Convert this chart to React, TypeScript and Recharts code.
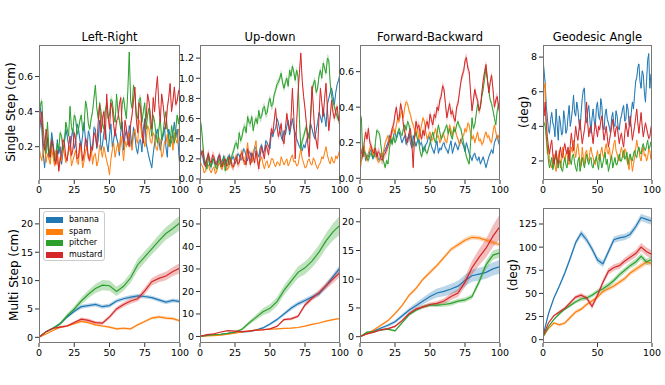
import { ComposedChart, Line, Area, XAxis, YAxis } from "recharts";

const OBJECTS = ["banana", "spam", "pitcher", "mustard"];
const COLORS = ["#1f77b4", "#ff7f0e", "#2ca02c", "#d62728"];
const FONT = "DejaVu Sans, sans-serif";

const stepsFine = Array.from({ length: 101 }, (_, i) => i);
const stepsCoarse = Array.from({ length: 21 }, (_, i) => i * 5);

// ---- single step, left-right (cm), one value per step 0..100
const lrBanana = [
  0.44, 0.42, 0.30, 0.16, 0.08, 0.20, 0.25, 0.14, 0.18, 0.28, 0.22, 0.15, 0.12, 0.24, 0.16, 0.20, 0.10, 0.17, 0.22, 0.30,
  0.26, 0.21, 0.18, 0.25, 0.30, 0.19, 0.22, 0.33, 0.30, 0.24, 0.20, 0.27, 0.34, 0.23, 0.18, 0.29, 0.26, 0.16, 0.20, 0.31,
  0.30, 0.19, 0.24, 0.35, 0.18, 0.21, 0.28, 0.32, 0.22, 0.17, 0.26, 0.33, 0.20, 0.24, 0.30, 0.25, 0.22, 0.15, 0.28, 0.34,
  0.18, 0.26, 0.30, 0.21, 0.32, 0.27, 0.20, 0.31, 0.26, 0.19, 0.16, 0.23, 0.24, 0.17, 0.30, 0.36, 0.22, 0.18, 0.14, 0.11,
  0.08, 0.16, 0.22, 0.27, 0.30, 0.24, 0.18, 0.23, 0.26, 0.31, 0.20, 0.14, 0.30, 0.26, 0.22, 0.28, 0.34, 0.25, 0.30, 0.18,
  0.06,
];
const lrSpam = [
  0.20, 0.15, 0.12, 0.18, 0.22, 0.11, 0.16, 0.13, 0.10, 0.19, 0.14, 0.09, 0.18, 0.12, 0.08, 0.14, 0.12, 0.21, 0.16, 0.11,
  0.14, 0.17, 0.20, 0.09, 0.12, 0.15, 0.18, 0.11, 0.10, 0.22, 0.16, 0.08, 0.12, 0.17, 0.20, 0.13, 0.14, 0.19, 0.10, 0.15,
  0.16, 0.09, 0.12, 0.21, 0.18, 0.14, 0.20, 0.16, 0.12, 0.09, 0.04, 0.13, 0.18, 0.22, 0.14, 0.19, 0.22, 0.17, 0.26, 0.20,
  0.12, 0.23, 0.20, 0.25, 0.28, 0.21, 0.18, 0.27, 0.30, 0.24, 0.22, 0.35, 0.33, 0.25, 0.26, 0.20, 0.24, 0.32, 0.30, 0.23,
  0.22, 0.28, 0.26, 0.19, 0.18, 0.25, 0.24, 0.14, 0.16, 0.23, 0.22, 0.27, 0.20, 0.24, 0.26, 0.18, 0.28, 0.24, 0.22, 0.30,
  0.28,
];
const lrPitcher = [
  0.40, 0.44, 0.46, 0.30, 0.22, 0.16, 0.34, 0.20, 0.14, 0.24, 0.20, 0.12, 0.12, 0.22, 0.18, 0.28, 0.26, 0.18, 0.22, 0.34,
  0.30, 0.26, 0.43, 0.31, 0.28, 0.38, 0.36, 0.27, 0.30, 0.35, 0.38, 0.29, 0.32, 0.46, 0.42, 0.33, 0.30, 0.36, 0.40, 0.48,
  0.55, 0.42, 0.36, 0.45, 0.40, 0.33, 0.30, 0.41, 0.44, 0.36, 0.38, 0.47, 0.46, 0.38, 0.34, 0.50, 0.40, 0.35, 0.30, 0.44,
  0.48, 0.41, 0.36, 0.52, 0.74, 0.46, 0.42, 0.55, 0.50, 0.38, 0.36, 0.47, 0.48, 0.34, 0.40, 0.45, 0.30, 0.38, 0.42, 0.32,
  0.26, 0.38, 0.34, 0.27, 0.22, 0.30, 0.36, 0.24, 0.28, 0.35, 0.40, 0.30, 0.26, 0.20, 0.32, 0.27, 0.22, 0.30, 0.38, 0.33,
  0.40,
];
const lrMustard = [
  0.26, 0.34, 0.40, 0.22, 0.18, 0.30, 0.24, 0.15, 0.14, 0.24, 0.20, 0.13, 0.10, 0.18, 0.06, 0.12, 0.16, 0.24, 0.22, 0.14,
  0.12, 0.20, 0.26, 0.15, 0.18, 0.28, 0.24, 0.13, 0.14, 0.22, 0.20, 0.12, 0.16, 0.25, 0.22, 0.14, 0.12, 0.20, 0.18, 0.28,
  0.26, 0.20, 0.34, 0.44, 0.28, 0.36, 0.40, 0.24, 0.50, 0.38, 0.30, 0.45, 0.42, 0.32, 0.26, 0.35, 0.36, 0.44, 0.48, 0.30,
  0.22, 0.35, 0.30, 0.24, 0.20, 0.33, 0.38, 0.46, 0.54, 0.36, 0.28, 0.45, 0.42, 0.30, 0.22, 0.34, 0.36, 0.50, 0.46, 0.38,
  0.30, 0.48, 0.40, 0.52, 0.60, 0.44, 0.34, 0.50, 0.44, 0.36, 0.30, 0.42, 0.48, 0.56, 0.40, 0.46, 0.54, 0.44, 0.46, 0.52,
  0.50,
];
const lrSpread = [0.015, 0.012, 0.02, 0.02];

// ---- single step, up-down (cm)
const udBanana = [
  0.30, 0.26, 0.22, 0.14, 0.16, 0.20, 0.24, 0.13, 0.12, 0.18, 0.20, 0.15, 0.16, 0.22, 0.24, 0.17, 0.18, 0.23, 0.14, 0.19,
  0.20, 0.24, 0.16, 0.21, 0.22, 0.15, 0.18, 0.25, 0.24, 0.19, 0.20, 0.30, 0.28, 0.22, 0.18, 0.27, 0.26, 0.17, 0.20, 0.32,
  0.30, 0.25, 0.22, 0.31, 0.34, 0.26, 0.28, 0.38, 0.36, 0.32, 0.30, 0.46, 0.42, 0.48, 0.50, 0.60, 0.56, 0.48, 0.42, 0.38,
  0.48, 0.44, 0.52, 0.58, 0.44, 0.52, 0.60, 0.50, 0.46, 0.40, 0.36, 0.32, 0.30, 0.28, 0.34, 0.31, 0.38, 0.42, 0.46, 0.55,
  0.50, 0.44, 0.40, 0.48, 0.56, 0.66, 0.62, 0.56, 0.70, 0.62, 0.52, 0.74, 0.80, 0.86, 0.90, 0.82, 0.74, 0.86, 0.94, 0.98,
  1.05,
];
const udSpam = [
  0.18, 0.14, 0.12, 0.06, 0.08, 0.16, 0.14, 0.09, 0.06, 0.10, 0.12, 0.05, 0.08, 0.13, 0.16, 0.11, 0.10, 0.18, 0.14, 0.09,
  0.10, 0.15, 0.20, 0.11, 0.12, 0.18, 0.24, 0.14, 0.16, 0.22, 0.28, 0.18, 0.14, 0.25, 0.36, 0.22, 0.20, 0.16, 0.26, 0.31,
  0.38, 0.20, 0.14, 0.18, 0.22, 0.15, 0.10, 0.16, 0.18, 0.11, 0.14, 0.20, 0.20, 0.15, 0.12, 0.17, 0.16, 0.13, 0.22, 0.18,
  0.14, 0.17, 0.20, 0.13, 0.16, 0.21, 0.24, 0.17, 0.18, 0.13, 0.14, 0.22, 0.30, 0.20, 0.16, 0.11, 0.12, 0.18, 0.20, 0.15,
  0.14, 0.21, 0.18, 0.13, 0.10, 0.14, 0.16, 0.22, 0.20, 0.26, 0.32, 0.24, 0.18, 0.15, 0.22, 0.17, 0.16, 0.23, 0.20, 0.25,
  0.30,
];
const udPitcher = [
  0.60, 0.52, 0.35, 0.20, 0.15, 0.10, 0.22, 0.16, 0.12, 0.20, 0.18, 0.12, 0.10, 0.16, 0.20, 0.12, 0.14, 0.22, 0.08, 0.16,
  0.22, 0.14, 0.18, 0.24, 0.28, 0.34, 0.36, 0.30, 0.46, 0.38, 0.42, 0.50, 0.52, 0.46, 0.62, 0.56, 0.55, 0.62, 0.48, 0.56,
  0.60, 0.55, 0.68, 0.60, 0.62, 0.70, 0.72, 0.64, 0.66, 0.76, 0.80, 0.72, 0.74, 0.84, 0.88, 0.94, 0.96, 1.00, 1.05, 0.95,
  0.90, 0.96, 1.00, 0.92, 1.08, 1.02, 1.12, 1.06, 0.98, 1.08, 1.02, 0.60, 0.30, 0.38, 0.42, 0.48, 0.52, 0.44, 0.40, 0.62,
  0.88, 0.94, 0.98, 0.86, 0.90, 1.02, 1.08, 1.00, 1.15, 1.10, 1.05, 1.20, 1.18, 0.95, 0.82, 0.76, 0.72, 0.66, 0.62, 0.58,
  0.68,
];
const udMustard = [
  0.32, 0.24, 0.28, 0.18, 0.12, 0.20, 0.26, 0.18, 0.16, 0.24, 0.22, 0.15, 0.14, 0.20, 0.24, 0.16, 0.12, 0.18, 0.20, 0.13,
  0.14, 0.22, 0.18, 0.13, 0.12, 0.19, 0.22, 0.15, 0.16, 0.24, 0.26, 0.18, 0.18, 0.14, 0.30, 0.22, 0.14, 0.26, 0.22, 0.16,
  0.28, 0.18, 0.10, 0.24, 0.32, 0.26, 0.20, 0.34, 0.30, 0.24, 0.38, 0.50, 0.45, 0.58, 0.70, 0.52, 0.42, 0.48, 0.55, 0.40,
  0.35, 0.50, 0.65, 0.55, 0.48, 0.60, 0.90, 0.62, 0.20, 0.55, 0.85, 1.05, 1.25, 0.98, 0.82, 0.70, 0.55, 0.35, 0.22, 0.60,
  0.92, 0.70, 0.45, 0.38, 0.30, 0.62, 0.90, 0.76, 0.62, 0.80, 0.95, 0.70, 0.48, 0.62, 0.78, 0.66, 0.60, 0.68, 0.72, 0.58,
  0.62,
];
const udSpread = [0.02, 0.012, 0.04, 0.04];

// ---- single step, forward-backward (cm)
const fbBanana = [
  0.12, 0.10, 0.14, 0.16, 0.10, 0.13, 0.12, 0.15, 0.16, 0.11, 0.12, 0.14, 0.14, 0.11, 0.10, 0.13, 0.12, 0.15, 0.16, 0.18,
  0.20, 0.24, 0.22, 0.20, 0.24, 0.27, 0.22, 0.25, 0.26, 0.23, 0.20, 0.22, 0.24, 0.19, 0.22, 0.25, 0.20, 0.17, 0.24, 0.21,
  0.18, 0.21, 0.22, 0.19, 0.20, 0.15, 0.16, 0.19, 0.20, 0.24, 0.22, 0.18, 0.16, 0.14, 0.18, 0.21, 0.14, 0.17, 0.16, 0.19,
  0.20, 0.17, 0.16, 0.14, 0.18, 0.21, 0.14, 0.17, 0.20, 0.18, 0.16, 0.19, 0.22, 0.20, 0.18, 0.15, 0.20, 0.17, 0.14, 0.12,
  0.10, 0.13, 0.14, 0.11, 0.10, 0.12, 0.08, 0.10, 0.12, 0.09, 0.06, 0.09, 0.12, 0.14, 0.16, 0.14, 0.20, 0.22, 0.24, 0.20,
  0.18,
];
const fbSpam = [
  0.03, 0.10, 0.15, 0.18, 0.12, 0.10, 0.14, 0.17, 0.18, 0.13, 0.16, 0.12, 0.12, 0.09, 0.10, 0.14, 0.12, 0.16, 0.20, 0.22,
  0.24, 0.20, 0.22, 0.26, 0.28, 0.25, 0.30, 0.34, 0.32, 0.36, 0.38, 0.34, 0.40, 0.43, 0.42, 0.38, 0.36, 0.32, 0.30, 0.27,
  0.24, 0.28, 0.22, 0.26, 0.30, 0.34, 0.32, 0.26, 0.22, 0.24, 0.26, 0.21, 0.22, 0.25, 0.28, 0.23, 0.24, 0.20, 0.22, 0.25,
  0.24, 0.21, 0.20, 0.25, 0.30, 0.27, 0.24, 0.29, 0.28, 0.24, 0.22, 0.19, 0.20, 0.23, 0.24, 0.28, 0.26, 0.31, 0.30, 0.25,
  0.22, 0.24, 0.20, 0.23, 0.26, 0.21, 0.22, 0.19, 0.20, 0.24, 0.26, 0.23, 0.24, 0.21, 0.20, 0.26, 0.30, 0.26, 0.22, 0.24,
  0.20,
];
const fbPitcher = [
  0.36, 0.34, 0.12, 0.15, 0.14, 0.11, 0.10, 0.13, 0.14, 0.12, 0.12, 0.20, 0.27, 0.26, 0.25, 0.18, 0.12, 0.09, 0.06, 0.10,
  0.08, 0.16, 0.22, 0.19, 0.24, 0.20, 0.22, 0.26, 0.28, 0.25, 0.24, 0.28, 0.30, 0.27, 0.32, 0.30, 0.24, 0.20, 0.18, 0.23,
  0.26, 0.22, 0.20, 0.15, 0.12, 0.16, 0.18, 0.15, 0.14, 0.17, 0.20, 0.23, 0.26, 0.22, 0.20, 0.25, 0.30, 0.26, 0.22, 0.24,
  0.26, 0.28, 0.30, 0.25, 0.28, 0.24, 0.22, 0.28, 0.26, 0.30, 0.32, 0.29, 0.28, 0.24, 0.20, 0.16, 0.12, 0.10, 0.08, 0.20,
  0.34, 0.28, 0.30, 0.36, 0.42, 0.38, 0.40, 0.46, 0.50, 0.56, 0.62, 0.55, 0.50, 0.44, 0.42, 0.38, 0.34, 0.30, 0.38, 0.42,
  0.38,
];
const fbMustard = [
  0.18, 0.15, 0.12, 0.20, 0.26, 0.22, 0.28, 0.20, 0.18, 0.15, 0.14, 0.17, 0.12, 0.15, 0.14, 0.11, 0.10, 0.13, 0.14, 0.16,
  0.18, 0.21, 0.24, 0.28, 0.30, 0.36, 0.40, 0.33, 0.34, 0.42, 0.38, 0.30, 0.26, 0.22, 0.20, 0.25, 0.28, 0.20, 0.06, 0.24,
  0.32, 0.28, 0.30, 0.25, 0.22, 0.27, 0.24, 0.30, 0.32, 0.28, 0.36, 0.33, 0.30, 0.36, 0.34, 0.40, 0.38, 0.44, 0.46, 0.52,
  0.50, 0.42, 0.34, 0.38, 0.42, 0.36, 0.38, 0.34, 0.32, 0.40, 0.42, 0.48, 0.54, 0.58, 0.60, 0.66, 0.68, 0.62, 0.60, 0.48,
  0.38, 0.44, 0.50, 0.46, 0.44, 0.38, 0.40, 0.48, 0.55, 0.60, 0.64, 0.56, 0.48, 0.54, 0.58, 0.50, 0.40, 0.44, 0.46, 0.40,
  0.36,
];
const fbSpread = [0.012, 0.015, 0.015, 0.025];

// ---- single step, geodesic angle (deg)
const gaBanana = [
  7.9, 7.2, 6.5, 5.2, 4.5, 3.8, 3.6, 4.4, 4.8, 4.2, 4.0, 3.4, 5.0, 4.1, 3.2, 4.6, 4.2, 3.5, 3.6, 4.9,
  4.4, 3.6, 3.8, 4.6, 5.2, 4.0, 4.4, 5.0, 5.8, 4.8, 4.6, 5.4, 5.0, 4.2, 3.8, 4.8, 5.6, 6.1, 6.2, 4.6,
  4.2, 4.9, 5.2, 4.4, 3.6, 4.5, 5.0, 4.3, 4.0, 5.1, 5.4, 4.6, 4.4, 5.6, 5.2, 4.0, 3.8, 4.7, 5.0, 4.4,
  4.2, 3.9, 3.6, 4.5, 4.8, 4.1, 4.0, 4.9, 4.6, 3.9, 3.8, 4.4, 4.6, 5.0, 5.2, 4.3, 4.4, 5.3, 5.0, 4.1,
  4.0, 4.8, 5.4, 5.0, 5.8, 6.6, 6.8, 7.4, 7.6, 6.6, 6.2, 7.2, 7.0, 6.0, 5.4, 6.6, 7.8, 8.2, 6.2, 7.0,
  6.8,
];
const gaSpam = [
  4.0, 6.2, 6.5, 3.2, 2.4, 2.9, 2.0, 1.8, 1.6, 2.1, 2.4, 1.7, 1.4, 1.9, 2.2, 2.6, 1.6, 2.0, 2.8, 2.3,
  2.0, 2.4, 2.6, 1.9, 1.8, 2.3, 2.8, 2.5, 3.2, 2.6, 2.2, 2.7, 3.0, 2.4, 2.0, 1.7, 2.8, 2.2, 1.8, 2.5,
  2.6, 2.2, 2.0, 2.5, 2.8, 2.4, 2.2, 1.9, 1.8, 2.2, 2.6, 2.1, 2.0, 2.5, 2.8, 2.3, 2.2, 2.7, 3.0, 2.5,
  2.4, 2.8, 2.0, 2.3, 2.6, 3.0, 3.2, 2.6, 2.4, 2.1, 2.0, 2.5, 2.8, 2.4, 2.2, 2.7, 2.6, 2.0, 1.8, 1.5,
  2.4, 2.0, 1.4, 1.8, 2.2, 2.7, 3.2, 2.8, 2.6, 2.2, 2.0, 2.5, 2.8, 2.3, 2.4, 2.0, 2.2, 2.7, 2.6, 2.1,
  2.4,
];
const gaPitcher = [
  4.4, 4.2, 4.0, 3.4, 2.8, 2.0, 1.6, 1.9, 2.2, 1.5, 1.8, 2.1, 2.4, 1.7, 1.6, 2.0, 2.0, 1.5, 1.4, 1.9,
  2.2, 1.8, 1.6, 2.1, 2.6, 2.0, 1.8, 2.3, 2.4, 1.9, 1.6, 1.4, 2.0, 2.2, 1.4, 1.8, 2.2, 1.9, 1.6, 2.0,
  2.4, 2.0, 1.8, 2.1, 2.2, 1.7, 1.6, 2.0, 2.0, 2.3, 1.8, 1.5, 2.4, 2.0, 1.6, 1.9, 2.2, 2.5, 1.8, 2.1,
  1.4, 1.7, 2.0, 2.3, 1.6, 1.9, 2.2, 1.8, 1.8, 2.1, 2.4, 2.0, 2.0, 2.3, 2.6, 2.1, 2.2, 2.5, 1.8, 2.2,
  2.4, 2.1, 2.0, 2.4, 2.6, 2.3, 2.2, 2.6, 2.8, 2.5, 2.4, 2.8, 3.0, 2.7, 2.6, 2.9, 3.2, 2.7, 2.8, 3.1,
  3.0,
];
const gaMustard = [
  5.0, 4.6, 5.4, 4.2, 3.4, 2.8, 2.4, 2.9, 3.2, 2.4, 1.8, 2.2, 2.6, 2.1, 1.8, 2.4, 2.8, 2.3, 2.2, 2.7,
  3.0, 2.6, 2.4, 2.8, 2.0, 2.9, 3.6, 3.0, 2.6, 3.3, 4.0, 3.5, 3.2, 3.8, 4.4, 3.6, 3.0, 3.4, 3.8, 4.4,
  5.4, 4.2, 3.4, 3.9, 4.0, 3.5, 3.0, 3.7, 4.2, 3.8, 3.4, 4.0, 3.8, 4.3, 4.6, 3.8, 3.2, 3.6, 4.0, 3.4,
  2.8, 3.2, 3.6, 4.0, 4.4, 3.8, 3.4, 3.9, 4.0, 3.5, 3.0, 3.4, 3.6, 3.1, 2.8, 3.6, 4.2, 3.8, 3.4, 4.0,
  4.6, 3.9, 3.2, 3.6, 4.0, 4.5, 5.0, 4.2, 3.6, 4.2, 4.8, 4.0, 3.4, 3.8, 4.2, 3.9, 3.6, 3.3, 3.4, 3.9,
  4.2,
];
const gaSpread = [0.15, 0.1, 0.1, 0.15];

// ---- multi step, left-right (cm), every 5 steps
const mlrBanana = [0, 1.0, 1.6, 2.4, 3.6, 4.6, 5.4, 5.6, 5.8, 5.4, 5.6, 6.4, 6.8, 7.1, 7.3, 7.2, 7.0, 6.6, 6.2, 6.5, 6.3];
const mlrSpam = [0, 0.6, 1.2, 1.8, 2.0, 2.4, 2.8, 2.6, 2.2, 2.0, 1.8, 1.5, 1.6, 1.5, 2.2, 2.8, 3.4, 3.6, 3.4, 3.3, 2.9];
const mlrPitcher = [0, 1.0, 1.6, 2.4, 3.8, 5.0, 6.4, 7.6, 8.6, 9.2, 9.1, 8.1, 9.0, 10.5, 12.8, 14.2, 15.6, 17.0, 18.3, 19.2, 20.2];
const mlrMustard = [0, 1.0, 1.6, 1.8, 2.0, 2.6, 3.2, 3.0, 2.6, 2.5, 3.6, 5.0, 5.8, 6.4, 6.8, 8.2, 9.8, 10.4, 10.8, 11.6, 12.2];
const mlrBananaSd = [0, 0.1, 0.15, 0.2, 0.25, 0.3, 0.35, 0.35, 0.35, 0.35, 0.35, 0.35, 0.35, 0.35, 0.35, 0.35, 0.35, 0.35, 0.35, 0.35, 0.35];
const mlrSpamSd = [0, 0.1, 0.1, 0.15, 0.15, 0.2, 0.2, 0.2, 0.2, 0.2, 0.2, 0.2, 0.2, 0.2, 0.2, 0.2, 0.25, 0.25, 0.25, 0.25, 0.25];
const mlrPitcherSd = [0, 0.1, 0.2, 0.3, 0.4, 0.5, 0.6, 0.7, 0.8, 0.9, 0.9, 0.8, 0.8, 0.9, 1.0, 1.0, 1.0, 1.1, 1.1, 1.2, 1.3];
const mlrMustardSd = [0, 0.1, 0.15, 0.2, 0.2, 0.25, 0.3, 0.3, 0.3, 0.3, 0.35, 0.4, 0.45, 0.5, 0.5, 0.6, 0.65, 0.7, 0.75, 0.8, 0.9];

// ---- multi step, up-down (cm)
const mudBanana = [0, 0.5, 0.8, 1.0, 1.4, 1.8, 2.0, 2.2, 2.8, 3.8, 5.5, 7.5, 10.0, 12.5, 14.5, 16.0, 17.5, 19.0, 22.5, 26.5, 30.5];
const mudSpam = [0, 0.2, 0.4, 0.6, 1.0, 1.5, 2.0, 2.5, 2.8, 3.0, 3.2, 3.4, 3.6, 3.7, 4.0, 4.6, 5.4, 6.0, 6.8, 7.5, 8.0];
const mudPitcher = [0, 0.5, 0.8, 1.0, 1.4, 2.0, 3.2, 6.0, 8.5, 11.0, 12.5, 15.5, 20.5, 24.5, 28.5, 30.5, 33.5, 37.5, 42.5, 46.5, 49.5];
const mudMustard = [0, 0.8, 1.2, 2.0, 2.6, 2.4, 2.2, 2.4, 2.8, 3.0, 3.4, 4.5, 7.5, 7.8, 9.0, 14.0, 17.0, 19.5, 22.5, 25.5, 28.5];
const mudBananaSd = [0, 0.1, 0.1, 0.2, 0.2, 0.2, 0.3, 0.3, 0.4, 0.5, 0.6, 0.7, 0.8, 0.9, 1.0, 1.0, 1.1, 1.1, 1.2, 1.3, 1.5];
const mudSpamSd = [0, 0.05, 0.1, 0.1, 0.1, 0.15, 0.15, 0.2, 0.2, 0.2, 0.2, 0.2, 0.25, 0.25, 0.25, 0.3, 0.3, 0.3, 0.3, 0.35, 0.35];
const mudPitcherSd = [0, 0.1, 0.1, 0.2, 0.3, 0.4, 0.6, 0.9, 1.2, 1.6, 1.8, 2.0, 2.2, 2.4, 2.6, 2.8, 3.0, 3.2, 3.4, 3.8, 4.2];
const mudMustardSd = [0, 0.1, 0.1, 0.15, 0.2, 0.2, 0.2, 0.25, 0.3, 0.3, 0.3, 0.4, 0.5, 0.6, 0.7, 0.9, 1.1, 1.3, 1.5, 1.8, 2.0];

// ---- multi step, forward-backward (cm)
const mfbBanana = [0, 0.6, 1.0, 1.5, 2.0, 2.6, 3.6, 4.6, 5.4, 6.2, 7.0, 7.6, 7.9, 8.3, 8.8, 9.8, 10.6, 10.9, 11.2, 11.8, 12.2];
const mfbSpam = [0, 0.5, 1.2, 2.0, 2.8, 4.0, 5.4, 7.2, 8.4, 10.0, 11.2, 12.4, 13.8, 15.2, 16.0, 16.8, 17.3, 17.2, 16.8, 16.4, 16.0];
const mfbPitcher = [0, 0.8, 0.9, 1.2, 1.3, 1.0, 2.4, 3.8, 4.6, 5.2, 5.5, 5.5, 5.6, 5.8, 6.2, 6.4, 7.0, 9.5, 12.5, 14.2, 14.6];
const mfbMustard = [0, 0.5, 0.8, 1.2, 1.4, 1.8, 2.8, 4.0, 4.8, 5.2, 5.6, 5.8, 6.2, 7.0, 7.6, 9.5, 12.0, 13.8, 15.4, 17.5, 19.2];
const mfbBananaSd = [0, 0.1, 0.15, 0.2, 0.25, 0.3, 0.35, 0.4, 0.5, 0.6, 0.7, 0.8, 0.85, 0.9, 0.95, 1.0, 1.05, 1.1, 1.1, 1.15, 1.2];
const mfbSpamSd = [0, 0.1, 0.15, 0.2, 0.2, 0.25, 0.25, 0.3, 0.3, 0.3, 0.35, 0.35, 0.35, 0.35, 0.4, 0.4, 0.4, 0.4, 0.4, 0.4, 0.4];
const mfbPitcherSd = [0, 0.1, 0.1, 0.15, 0.15, 0.2, 0.2, 0.25, 0.25, 0.3, 0.3, 0.35, 0.4, 0.4, 0.4, 0.4, 0.45, 0.6, 0.7, 0.8, 0.8];
const mfbMustardSd = [0, 0.1, 0.1, 0.15, 0.15, 0.2, 0.2, 0.25, 0.3, 0.3, 0.35, 0.4, 0.5, 0.6, 0.7, 0.9, 1.2, 1.4, 1.6, 1.9, 2.2];

// ---- multi step, geodesic angle (deg)
const mgaBanana = [4, 28, 45, 58, 72, 88, 105, 115, 108, 98, 86, 82, 95, 108, 110, 111, 114, 122, 132, 130, 128];
const mgaSpam = [3, 12, 18, 16, 18, 24, 30, 33, 38, 42, 46, 52, 55, 58, 62, 66, 72, 76, 80, 84, 82];
const mgaPitcher = [3, 14, 22, 28, 33, 37, 41, 44, 45, 48, 52, 55, 59, 64, 70, 75, 80, 84, 90, 84, 87];
const mgaMustard = [4, 18, 26, 30, 34, 40, 46, 48, 45, 36, 48, 62, 74, 78, 80, 85, 89, 93, 100, 95, 92];
const mgaBananaSd = [0, 1, 1.5, 2, 2.5, 3, 3, 3.5, 3.5, 3.5, 3.5, 3.5, 3.5, 3.5, 3.5, 3.5, 3.5, 3.5, 4, 4, 4];
const mgaSpamSd = [0, 0.5, 1, 1.5, 1.5, 2, 2, 2, 2, 2, 2, 2, 2.5, 2.5, 2.5, 2.5, 2.5, 3, 3, 3, 3];
const mgaPitcherSd = [0, 0.5, 1, 1.5, 1.5, 2, 2, 2.5, 2.5, 2.5, 2.5, 3, 3, 3, 3, 3, 3, 3.5, 3.5, 3.5, 3.5];
const mgaMustardSd = [0, 0.5, 1, 1.5, 1.5, 2, 2, 2.5, 2.5, 3, 3, 3, 3.5, 3.5, 3.5, 3.5, 4, 4, 4.5, 4.5, 4.5];

type Row = { [k: string]: number | number[] };

function makeRows(steps: number[], series: number[][], spread: (i: number, j: number) => number): Row[] {
  return steps.map((x, j) => {
    const row: Row = { x };
    series.forEach((s, i) => {
      row["m" + i] = s[j];
      row["r" + i] = [s[j] - spread(i, j), s[j] + spread(i, j)];
    });
    return row;
  });
}

const constSpread = (sd: number[]) => (i: number) => sd[i];
const arrSpread = (sd: number[][]) => (i: number, j: number) => sd[i][j];

const lrRows = makeRows(stepsFine, [lrBanana, lrSpam, lrPitcher, lrMustard], constSpread(lrSpread));
const udRows = makeRows(stepsFine, [udBanana, udSpam, udPitcher, udMustard], constSpread(udSpread));
const fbRows = makeRows(stepsFine, [fbBanana, fbSpam, fbPitcher, fbMustard], constSpread(fbSpread));
const gaRows = makeRows(stepsFine, [gaBanana, gaSpam, gaPitcher, gaMustard], constSpread(gaSpread));
const mlrRows = makeRows(stepsCoarse, [mlrBanana, mlrSpam, mlrPitcher, mlrMustard], arrSpread([mlrBananaSd, mlrSpamSd, mlrPitcherSd, mlrMustardSd]));
const mudRows = makeRows(stepsCoarse, [mudBanana, mudSpam, mudPitcher, mudMustard], arrSpread([mudBananaSd, mudSpamSd, mudPitcherSd, mudMustardSd]));
const mfbRows = makeRows(stepsCoarse, [mfbBanana, mfbSpam, mfbPitcher, mfbMustard], arrSpread([mfbBananaSd, mfbSpamSd, mfbPitcherSd, mfbMustardSd]));
const mgaRows = makeRows(stepsCoarse, [mgaBanana, mgaSpam, mgaPitcher, mgaMustard], arrSpread([mgaBananaSd, mgaSpamSd, mgaPitcherSd, mgaMustardSd]));

const xTicksWide = [0, 25, 50, 75, 100];
const xTicksNarrow = [0, 50, 100];

const tickStyle = { fontSize: 9.5, fill: "#000", fontFamily: FONT };

type PanelProps = {
  left: number;
  top: number;
  w: number;
  h: number;
  rows: Row[];
  domain: [number, number];
  yTicks: number[];
  xTicks: number[];
  fmt?: (v: number) => string;
  lw?: number;
};

function Panel({ left, top, w, h, rows, domain, yTicks, xTicks, fmt, lw = 1.2 }: PanelProps) {
  const yW = 40;
  const xH = 22;
  const mt = 8;
  const mr = 14;
  const marks = OBJECTS.flatMap((name, i) => [
    <Area
      key={"a" + i}
      dataKey={"r" + i}
      type="linear"
      stroke="none"
      fill={COLORS[i]}
      fillOpacity={0.3}
      isAnimationActive={false}
      dot={false}
      activeDot={false}
      name={name + " band"}
    />,
    <Line
      key={"l" + i}
      dataKey={"m" + i}
      type="linear"
      stroke={COLORS[i]}
      strokeWidth={lw}
      dot={false}
      activeDot={false}
      isAnimationActive={false}
      name={name}
    />,
  ]);
  return (
    <div style={{ position: "absolute", left: left - yW, top: top - mt }}>
      <ComposedChart
        width={yW + w + mr}
        height={mt + h + xH}
        data={rows}
        margin={{ top: mt, right: mr, bottom: 0, left: 0 }}
      >
        <XAxis
          dataKey="x"
          type="number"
          domain={[0, 100]}
          ticks={xTicks}
          interval={0}
          allowDataOverflow
          axisLine={false}
          tickLine={{ stroke: "#333" }}
          tickSize={4}
          tickMargin={2}
          height={xH}
          tick={tickStyle}
        />
        <YAxis
          type="number"
          domain={domain}
          ticks={yTicks}
          interval={0}
          allowDataOverflow
          axisLine={false}
          tickLine={{ stroke: "#333" }}
          tickSize={4}
          tickMargin={2}
          width={yW}
          tick={tickStyle}
          tickFormatter={fmt}
        />
        {marks}
      </ComposedChart>
      <div
        style={{
          position: "absolute",
          left: yW,
          top: mt,
          width: w,
          height: h,
          border: "1px solid #777",
          boxSizing: "border-box",
          pointerEvents: "none",
        }}
      />
    </div>
  );
}

const one = (v: number) => v.toFixed(1);

const TOP = 45;
const BOTTOM = 208;
const H = 135;
const COLS = [39, 200, 360, 543];
const WIDTHS = [141, 140, 140, 109];
const TITLES = ["Left-Right", "Up-down", "Forward-Backward", "Geodesic Angle"];

function Legend() {
  return (
    <div
      style={{
        position: "absolute",
        left: 43,
        top: 211,
        width: 62,
        height: 50,
        border: "1px solid #ccc",
        borderRadius: 3,
        background: "rgba(255,255,255,0.8)",
        boxSizing: "border-box",
        fontFamily: FONT,
        fontSize: 8,
      }}
    >
      {OBJECTS.map((name, i) => (
        <div
          key={name}
          style={{ position: "absolute", left: 2, top: 3 + i * 11.7, height: 10, display: "flex", alignItems: "center" }}
        >
          <div style={{ width: 17, height: 6, background: COLORS[i] }} />
          <span style={{ marginLeft: 6, lineHeight: "10px" }}>{name}</span>
        </div>
      ))}
    </div>
  );
}

export default function App() {
  return (
    <div style={{ position: "relative", width: 665, height: 385, background: "#fff", overflow: "hidden", fontFamily: FONT }}>
      <style>{"body{margin:0}"}</style>
      <Panel left={COLS[0]} top={TOP} w={WIDTHS[0]} h={H} rows={lrRows} domain={[0.01, 0.78]} yTicks={[0.2, 0.4, 0.6]} xTicks={xTicksWide} fmt={one} lw={1} />
      <Panel left={COLS[1]} top={TOP} w={WIDTHS[1]} h={H} rows={udRows} domain={[-0.01, 1.33]} yTicks={[0, 0.2, 0.4, 0.6, 0.8, 1.0, 1.2]} xTicks={xTicksWide} fmt={one} lw={1} />
      <Panel left={COLS[2]} top={TOP} w={WIDTHS[2]} h={H} rows={fbRows} domain={[-0.01, 0.75]} yTicks={[0, 0.2, 0.4, 0.6]} xTicks={xTicksWide} fmt={one} lw={1} />
      <Panel left={COLS[3]} top={TOP} w={WIDTHS[3]} h={H} rows={gaRows} domain={[0.9, 8.7]} yTicks={[2, 4, 6, 8]} xTicks={xTicksNarrow} lw={1} />
      <Panel left={COLS[0]} top={BOTTOM} w={WIDTHS[0]} h={H} rows={mlrRows} domain={[-1, 22.8]} yTicks={[0, 5, 10, 15, 20]} xTicks={xTicksWide} />
      <Panel left={COLS[1]} top={BOTTOM} w={WIDTHS[1]} h={H} rows={mudRows} domain={[-2.9, 57.1]} yTicks={[0, 10, 20, 30, 40, 50]} xTicks={xTicksWide} />
      <Panel left={COLS[2]} top={BOTTOM} w={WIDTHS[2]} h={H} rows={mfbRows} domain={[-1.1, 22.4]} yTicks={[0, 5, 10, 15, 20]} xTicks={xTicksWide} />
      <Panel left={COLS[3]} top={BOTTOM} w={WIDTHS[3]} h={H} rows={mgaRows} domain={[-3.6, 142.3]} yTicks={[0, 25, 50, 75, 100, 125]} xTicks={xTicksNarrow} />
      <Legend />
      <svg width={665} height={385} style={{ position: "absolute", left: 0, top: 0, pointerEvents: "none" }}>
        {TITLES.map((t, i) => (
          <text key={t} x={COLS[i] + WIDTHS[i] / 2} y={41} textAnchor="middle" fontSize={11.5} fontFamily={FONT} fill="#000">
            {t}
          </text>
        ))}
        <text transform="translate(15,112) rotate(-90)" textAnchor="middle" fontSize={12} fontFamily={FONT} fill="#000">
          Single Step (cm)
        </text>
        <text transform="translate(17.5,275) rotate(-90)" textAnchor="middle" fontSize={12} fontFamily={FONT} fill="#000">
          Multi Step (cm)
        </text>
        <text transform="translate(528,112) rotate(-90)" textAnchor="middle" fontSize={12} fontFamily={FONT} fill="#000">
          (deg)
        </text>
        <text transform="translate(516.5,275) rotate(-90)" textAnchor="middle" fontSize={12} fontFamily={FONT} fill="#000">
          (deg)
        </text>
      </svg>
    </div>
  );
}
